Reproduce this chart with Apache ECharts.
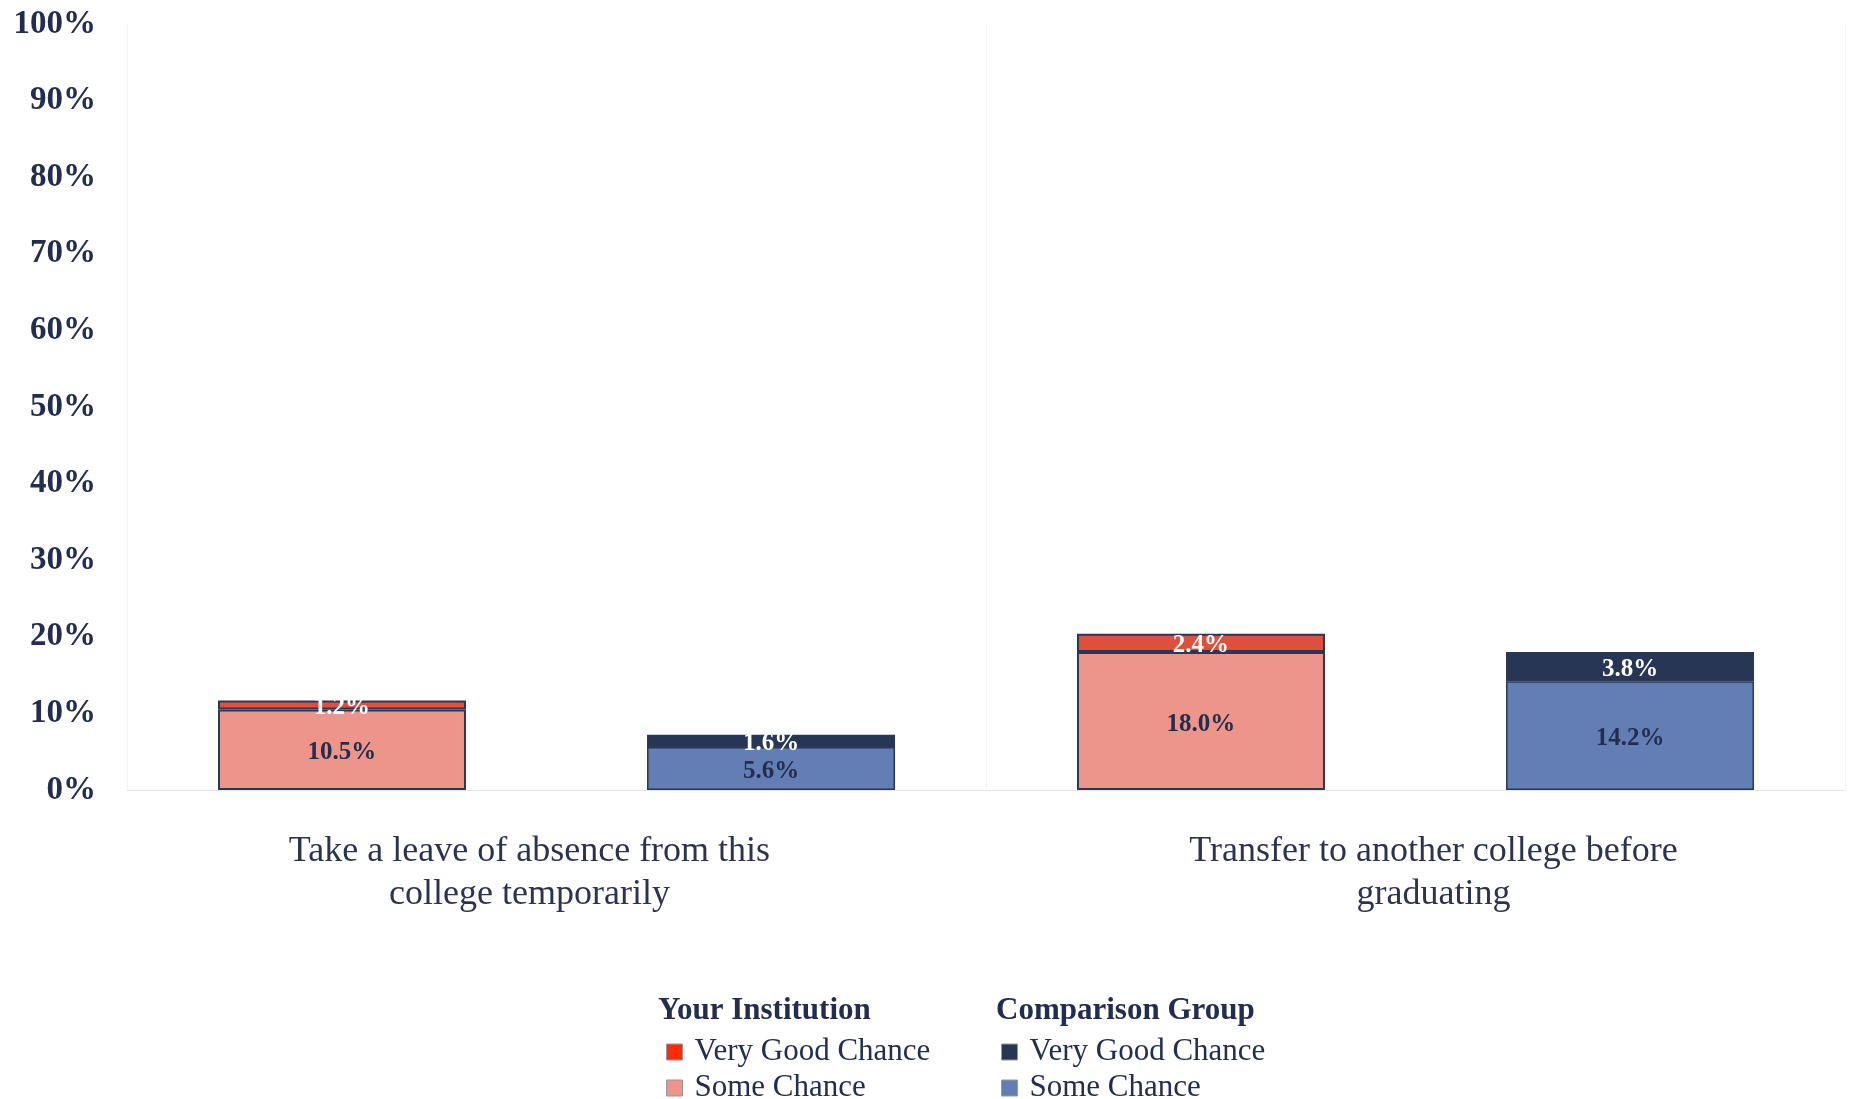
<!DOCTYPE html>
<html>
<head>
<meta charset="utf-8">
<script src="https://cdn.jsdelivr.net/npm/echarts@6/dist/echarts.min.js"></script>
<style>
html, body { margin: 0; padding: 0; background: #fff; }
#chart { width: 1856px; height: 1099px; }
</style>
</head>
<body>
<div id="chart"></div>
<script>
var categories = ['Take a leave of absence from this\ncollege temporarily', 'Transfer to another college before\ngraduating'];
var instSome = [10.5, 18.0];
var instVeryGood = [1.2, 2.4];
var compSome = [5.6, 14.2];
var compVeryGood = [1.6, 3.8];
var yTicks = [0, 100, 10];

var navy = '#232d4f';
var serif = '"Liberation Serif", "DejaVu Serif", serif';
var edge = '#2b3757';

function labelStyle(color) {
    return {
        show: true,
        position: 'inside',
        offset: [0, 3],
        formatter: function (p) { return p.value.toFixed(1) + '%'; },
        color: color,
        fontFamily: serif,
        fontWeight: 'bold',
        fontSize: 25
    };
}

var legendText = { fontFamily: serif, fontSize: 31, lineHeight: 32, color: navy, padding: [0, 0, 0, 7] };

var option = {
    animation: false,
    backgroundColor: '#fff',
    title: [
        { text: 'Your Institution', left: 658, top: 995, padding: 0,
          textStyle: { fontFamily: serif, fontWeight: 'bold', fontSize: 31, color: navy } },
        { text: 'Comparison Group', left: 996, top: 995, padding: 0,
          textStyle: { fontFamily: serif, fontWeight: 'bold', fontSize: 31, color: navy } }
    ],
    legend: [
        {
            orient: 'vertical', left: 661, top: 1031, height: 150, itemGap: 4,
            itemWidth: 16, itemHeight: 16, icon: 'rect',
            textStyle: legendText,
            data: [
                { name: 'Very Good Chance', itemStyle: { color: '#ff2a0a', borderColor: '#999', borderWidth: 1 } },
                { name: 'Some Chance', itemStyle: { color: '#ed958a', borderColor: '#999', borderWidth: 1 } }
            ]
        },
        {
            orient: 'vertical', left: 996, top: 1031, height: 150, itemGap: 4,
            itemWidth: 16, itemHeight: 16, icon: 'rect',
            textStyle: legendText,
            data: [
                { name: 'Very Good Chance ', itemStyle: { color: '#283655', borderColor: '#999', borderWidth: 1 } },
                { name: 'Some Chance ', itemStyle: { color: '#637eb4', borderColor: '#999', borderWidth: 1 } }
            ]
        }
    ],
    grid: { left: 127, right: 11, top: 24, bottom: 309 },
    xAxis: {
        type: 'category',
        data: categories,
        axisLine: { lineStyle: { color: '#e6e6e6', width: 1 } },
        axisTick: { show: false },
        splitLine: { show: true, lineStyle: { color: '#f3f3f3', width: 1 } },
        axisLabel: {
            margin: 40,
            formatter: function (v, i) { return '{c' + i + '|' + v + '}'; },
            rich: {
                c0: { fontFamily: serif, fontSize: 36, lineHeight: 43, color: '#2b3350', padding: [0, 54, 0, 0] },
                c1: { fontFamily: serif, fontSize: 36, lineHeight: 43, color: '#2b3350', padding: [0, 0, 0, 36] }
            }
        }
    },
    yAxis: {
        type: 'value',
        min: yTicks[0],
        max: yTicks[1],
        interval: yTicks[2],
        axisLine: { show: true, lineStyle: { color: '#f3f3f3' } },
        axisTick: { show: false },
        splitLine: { show: false },
        axisLabel: {
            formatter: '{value}%',
            margin: 31,
            fontFamily: serif,
            fontWeight: 'bold',
            fontSize: 33,
            color: navy
        }
    },
    series: [
        {
            name: 'Some Chance', type: 'bar', stack: 'inst', data: instSome,
            barWidth: 248, barGap: '73%',
            itemStyle: { color: '#ed958a', borderColor: edge, borderWidth: 2 },
            label: labelStyle(navy)
        },
        {
            name: 'Very Good Chance', type: 'bar', stack: 'inst', data: instVeryGood,
            barWidth: 248, barGap: '73%',
            itemStyle: { color: '#e04f39', borderColor: edge, borderWidth: 2 },
            label: labelStyle('#ffffff')
        },
        {
            name: 'Some Chance ', type: 'bar', stack: 'comp', data: compSome,
            barWidth: 248, barGap: '73%',
            itemStyle: { color: '#637eb4', borderColor: edge, borderWidth: 1.5 },
            label: labelStyle(navy)
        },
        {
            name: 'Very Good Chance ', type: 'bar', stack: 'comp', data: compVeryGood,
            barWidth: 248, barGap: '73%',
            itemStyle: { color: '#283655', borderColor: edge, borderWidth: 1.5 },
            label: labelStyle('#ffffff')
        }
    ]
};

var myChart = echarts.init(document.getElementById('chart'));
myChart.setOption(option);
</script>
</body>
</html>
